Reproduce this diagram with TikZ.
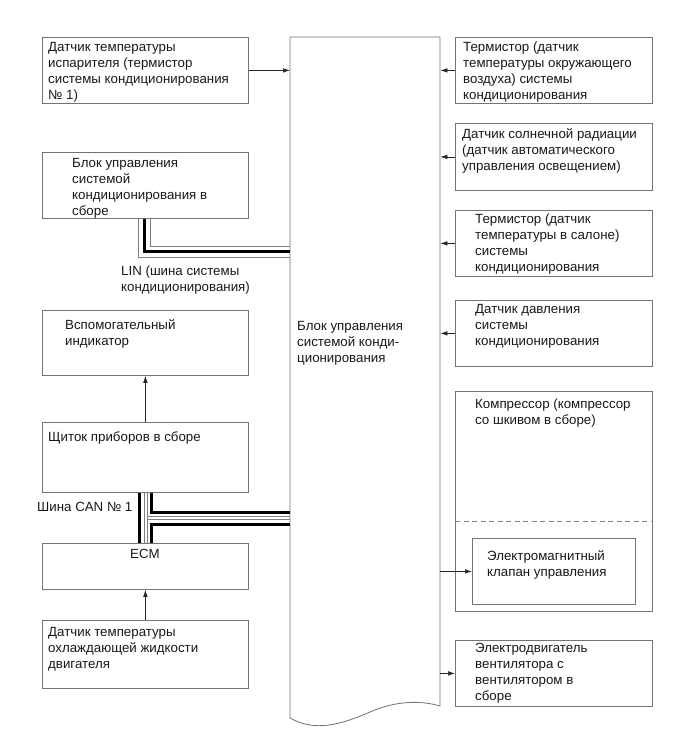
\documentclass[tikz,border=0pt]{standalone}
\usepackage{fontspec}
\setmainfont{Liberation Sans}
\usetikzlibrary{arrows.meta}
\begin{document}
\begin{tikzpicture}[x=1pt,y=-1pt,
  box/.style={draw=black!55, line width=0.8pt, inner sep=0pt, anchor=north west, minimum height=66pt},
  lbox/.style={box, minimum width=206pt},
  rbox/.style={box, minimum width=197pt},
  txt/.style={anchor=north west, inner sep=0pt, align=left, font=\fontsize{13.3}{16}\selectfont, text=black!90},
  arr/.style={-{Latex[length=7pt,width=4.5pt]}, line width=0.6pt, draw=black!85},
  busgray/.style={draw=black!50, line width=0.7pt},
  busblack/.style={draw=black, line width=3pt},
  outline/.style={draw=black!55, line width=0.8pt}
]
\useasboundingbox (0,0) rectangle (690,756);
\fill[white] (0,0) rectangle (690,756);

% central block
\node[inner sep=0pt, minimum width=150pt, minimum height=681pt, anchor=north west] (ecu) at (290,37) {};
\draw[outline] (290,718) -- (290,37) -- (440,37) -- (440,706)
  .. controls (420,700) and (395,701) .. (370,712)
  .. controls (340,725) and (315,732) .. (290,718);
\node[txt] (ecut) at (297,321) {Блок управления\\системой конди-\\ционирования};

% left column
\node[lbox] (l1) at (42,37) {};
\node[txt] (l1t) at (48,42) {Датчик температуры\\испарителя (термистор\\системы кондиционирования\\№ 1)};
\node[lbox] (l2) at (42,152) {};
\node[txt] (l2t) at (72,158) {Блок управления\\системой\\кондиционирования в\\сборе};
\node[txt] (lin) at (121,266) {LIN (шина системы\\кондиционирования)};
\node[lbox, minimum height=65pt] (l3) at (42,310) {};
\node[txt] (l3t) at (65,319) {Вспомогательный\\индикатор};
\node[lbox, minimum height=70pt] (l4) at (42,422) {};
\node[txt] (l4t) at (48,432) {Щиток приборов в сборе};
\node[txt] (can) at (37,502) {Шина CAN № 1};
\node[lbox, minimum height=46pt] (l5) at (42,543) {};
\node[txt, anchor=north] (l5t) at (145,549) {ECM};
\node[lbox, minimum height=68pt] (l6) at (42,620) {};
\node[txt] (l6t) at (48,627) {Датчик температуры\\охлаждающей жидкости\\двигателя};

% right column
\node[rbox] (r1) at (455,37) {};
\node[txt] (r1t) at (463,42) {Термистор (датчик\\температуры окружающего\\воздуха) системы\\кондиционирования};
\node[rbox, minimum height=67pt] (r2) at (455,123) {};
\node[txt] (r2t) at (462,128) {Датчик солнечной радиации\\(датчик автоматического\\управления освещением)};
\node[rbox] (r3) at (455,210) {};
\node[txt] (r3t) at (475,214) {Термистор (датчик\\температуры в салоне)\\системы\\кондиционирования};
\node[rbox] (r4) at (455,300) {};
\node[txt] (r4t) at (475,304) {Датчик давления\\системы\\кондиционирования};
\node[rbox, minimum height=220pt] (r5) at (455,391) {};
\node[txt] (r5t) at (475,399) {Компрессор (компрессор\\со шкивом в сборе)};
\draw[draw=black!50, line width=0.7pt, dash pattern=on 5pt off 3.5pt] (r5.west |- 0,521) -- (r5.east |- 0,521);
\node[box, minimum width=163pt] (valve) at (472,538) {};
\node[txt] (valvet) at (487,550) {Электромагнитный\\клапан управления};
\node[rbox] (r6) at (455,640) {};
\node[txt] (r6t) at (475,643) {Электродвигатель\\вентилятора с\\вентилятором в\\сборе};

% arrows
\draw[arr] (l1.east) -- (l1.east -| ecu.west);
\draw[arr] (l4.north) -- (l3.south);
\draw[arr] (l6.north) -- (l5.south);
\draw[arr] (r1.west) -- (r1.west -| ecu.east);
\draw[arr] (r2.west) -- (r2.west -| ecu.east);
\draw[arr] (r3.west) -- (r3.west -| ecu.east);
\draw[arr] (r4.west) -- (r4.west -| ecu.east);
\draw[arr] (valve.west -| ecu.east) -- (valve.west);
\draw[arr] (r6.west -| ecu.east) -- (r6.west);

% LIN bus
\draw[busgray] ([xshift=-7pt]l2.south) |- (ecu.west |- 0,257);
\draw[busblack] ([xshift=-1pt]l2.south) |- (ecu.west |- 0,251.5);
\draw[busgray] ([xshift=5pt]l2.south) |- (ecu.west |- 0,246);

% CAN bus
\coordinate (canA) at (146.5,516.5);
\coordinate (canB) at (146.5,519.5);
\draw[busblack] ([xshift=-6pt]l4.south) -- ([xshift=-6pt]l5.north);
\draw[busgray] ([xshift=-1.5pt]l4.south) -- ([xshift=-1.5pt]l5.north);
\draw[busgray] ([xshift=1.5pt]l4.south) -- ([xshift=1.5pt]l5.north);
\draw[busblack, line join=miter] ([xshift=6pt]l4.south) |- (ecu.west |- 0,512);
\draw[busblack, line join=miter] ([xshift=6pt]l5.north) |- (ecu.west |- 0,524);
\draw[busgray] (canA) -- (ecu.west |- canA);
\draw[busgray] (canB) -- (ecu.west |- canB);
\end{tikzpicture}
\end{document}
